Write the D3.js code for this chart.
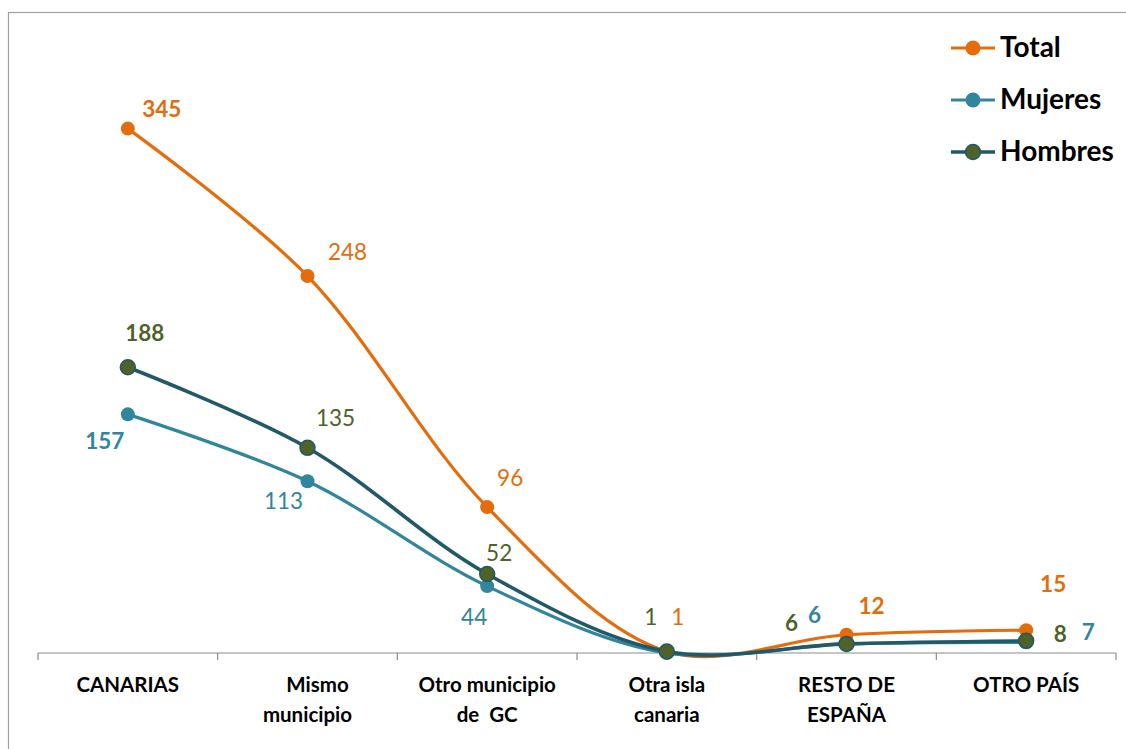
<!DOCTYPE html>
<html><head><meta charset="utf-8">
<script src="https://cdn.jsdelivr.net/npm/d3@7"></script>
<style>
html,body{margin:0;padding:0;background:#fff;}
svg{display:block;}
</style></head>
<body><svg id="c" width="1126" height="749"></svg>
<script>
const categories = [["CANARIAS"],["Mismo","municipio"],["Otro municipio","de  GC"],["Otra isla","canaria"],["RESTO DE","ESPAÑA"],["OTRO PAÍS"]];
const seriesNames = ["Total","Mujeres","Hombres"];
const totalValues = [345, 248, 96, 1, 12, 15];
const mujeresValues = [157, 113, 44, 0, 6, 7];
const hombresValues = [188, 135, 52, 1, 6, 8];
const mujeresLabels = ["157","113","44","","6","7"];

const svg = d3.select("#c");
const NUM_FONT = "Lato, 'Open Sans', sans-serif";

// outer chart border
svg.append("rect").attr("x", 8.5).attr("y", 12.5).attr("width", 1200).attr("height", 800)
  .attr("fill", "none").attr("stroke", "#a0a0a0").attr("stroke-width", 1.2);

const x = d3.scaleBand().domain(d3.range(categories.length)).range([38, 1116]);
const y = d3.scaleLinear().domain([0, 400]).range([653, 45]);
const cx = i => x(i) + x.bandwidth() / 2;

// axis
const axisG = svg.append("g").attr("transform", "translate(0,653)");
axisG.append("line").attr("x1", 38).attr("x2", 1116).attr("stroke", "#8c8c8c").attr("stroke-width", 1.2);
const tickPos = d3.range(categories.length + 1).map(i => i < categories.length ? x(i) : x.range()[1]);
axisG.selectAll("line.t").data(tickPos).enter().append("line").attr("class","t")
  .attr("x1", d => d).attr("x2", d => d).attr("y1", 0).attr("y2", 7)
  .attr("stroke", "#8c8c8c").attr("stroke-width", 1.2);

const catG = svg.append("g");
categories.forEach((lines, i) => {
  const t = catG.append("text").attr("text-anchor", "middle")
    .attr("font-family", "Lato, sans-serif")
    .attr("font-weight", "bold").attr("font-size", 20.5).attr("fill", "#000");
  lines.forEach((ln, k) => {
    t.append("tspan").attr("x", cx(i) + (i === 1 && k === 0 ? 10 : 0)).attr("y", 692 + k * 30)
      .attr("xml:space", "preserve").text(ln);
  });
});

const colors = {Total: "#E46C0A", Mujeres: "#31859C", Hombres: "#215968"};
const labelColors = {Total: "#E46C0A", Mujeres: "#31859C", Hombres: "#4F6228"};

const line = d3.line().x((d, i) => cx(i)).y(d => y(d)).curve(d3.curveCatmullRom.alpha(0.5));

function drawSeries(vals, name, width) {
  svg.append("path").attr("d", line(vals)).attr("fill", "none")
    .attr("stroke", colors[name]).attr("stroke-width", width).attr("stroke-linecap","round");
}
drawSeries(totalValues, "Total", 3.2);
drawSeries(mujeresValues, "Mujeres", 3.2);
drawSeries(hombresValues, "Hombres", 3.6);

svg.append("g").selectAll("circle").data(totalValues).enter().append("circle")
  .attr("cx", (d, i) => cx(i)).attr("cy", d => y(d)).attr("r", 7).attr("fill", colors.Total);
svg.append("g").selectAll("circle").data(mujeresValues).enter().append("circle")
  .attr("cx", (d, i) => cx(i)).attr("cy", d => y(d)).attr("r", 7).attr("fill", colors.Mujeres);
svg.append("g").selectAll("circle").data(hombresValues).enter().append("circle")
  .attr("cx", (d, i) => cx(i)).attr("cy", d => y(d)).attr("r", 7.5).attr("fill", "#4F6228")
  .attr("stroke", colors.Hombres).attr("stroke-width", 1.5);

// data labels: offsets [dx, baseline dy, bold]
const labelStyle = {
  Total:   [[34,-12,1],[40,-16,0],[23,-21,0],[11,-26,0],[25,-21,1],[27,-38,1]],
  Mujeres: [[-23,35,1],[-24,28,0],[-13,39,0],[0,0,0],[-32,-21,1],[62,-2,1]],
  Hombres: [[17,-26,1],[28,-22,0],[12,-13,0],[-16,-26,0],[-55,-13,1],[34,1,1]]
};
function labels(vals, texts, name) {
  vals.forEach((v, i) => {
    if (texts[i] === "") return;
    const s = labelStyle[name][i];
    svg.append("text").attr("x", cx(i) + s[0]).attr("y", y(v) + s[1])
      .attr("text-anchor", "middle").attr("font-family", NUM_FONT).attr("font-size", 22.5)
      .attr("font-weight", s[2] ? "bold" : "normal").attr("fill", labelColors[name]).text(texts[i]);
  });
}
labels(totalValues, totalValues.map(String), "Total");
labels(mujeresValues, mujeresLabels, "Mujeres");
labels(hombresValues, hombresValues.map(String), "Hombres");

// legend
const leg = svg.append("g");
seriesNames.forEach((n, k) => {
  const ly = 48 + k * 52;
  leg.append("line").attr("x1", 951).attr("x2", 995).attr("y1", ly).attr("y2", ly)
    .attr("stroke", colors[n]).attr("stroke-width", n === "Hombres" ? 3.6 : 3.2);
  leg.append("circle").attr("cx", 973).attr("cy", ly).attr("r", 7.5)
    .attr("fill", n === "Hombres" ? "#4F6228" : colors[n])
    .attr("stroke", n === "Hombres" ? colors.Hombres : "none").attr("stroke-width", 1.5);
  leg.append("text").attr("x", 1000).attr("y", ly + 9).attr("font-family", "Lato, sans-serif")
    .attr("font-weight", "bold").attr("font-size", 28).attr("fill", "#000").text(n);
});
</script></body></html>
